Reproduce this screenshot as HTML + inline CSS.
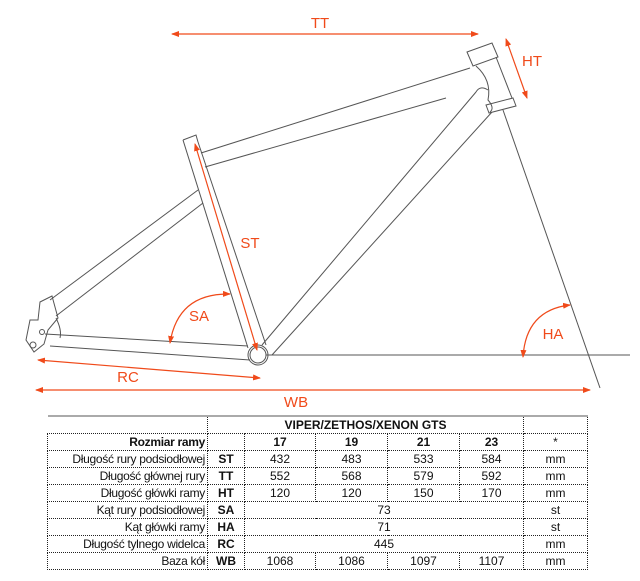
<!DOCTYPE html>
<html><head><meta charset="utf-8"><style>
body{margin:0;background:#fff;width:640px;height:581px;overflow:hidden;position:relative;font-family:"Liberation Sans",Arial,sans-serif}
svg{position:absolute;left:0;top:0}
table{position:absolute;left:47px;top:415px;border-collapse:collapse;font-size:12px;color:#111}
td{height:16px;padding:0 2px;border:1px dotted #222;text-align:center;line-height:16px;white-space:nowrap}
td.l{text-align:right;letter-spacing:-0.3px}
.b{font-weight:bold}
tr.top td{border-top:2px solid #aaa}
</style></head><body>
<svg width="640" height="581" viewBox="0 0 640 581">
<defs><marker id="a" markerWidth="8" markerHeight="6" refX="7" refY="3" orient="auto" markerUnits="userSpaceOnUse"><path d="M0,0 L8,3 L0,6z" fill="#f04a1a"/></marker>
<marker id="s" markerWidth="8" markerHeight="6" refX="1" refY="3" orient="auto" markerUnits="userSpaceOnUse"><path d="M8,0 L0,3 L8,6z" fill="#f04a1a"/></marker></defs>
<g fill="none" stroke="#555" stroke-width="1">
<!-- top tube -->
<path d="M201,153 L470,68"/><path d="M205,167 L446,98"/>
<!-- head tube -->
<path d="M467,52 L492,43 L498,57 L473,66 Z"/>
<path d="M476,66 Q492,80 488,100 Q495,108 490,112"/>
<path d="M496,57 L512,98"/>
<path d="M486,105 L513,98 L516,106 L489,113 Z"/>
<!-- down tube -->
<path d="M476,92 Q480,85 488,90 M476,92 L262,345"/><path d="M492,112 L272,355"/>
<!-- seat tube -->
<path d="M183,140 L196,135 L198,142"/><path d="M183,140 L248,348"/><path d="M198,142 L266,345"/>
<!-- seat stays -->
<path d="M198,190 L50,300"/><path d="M203,203 L56,316"/>
<!-- chainstays -->
<path d="M45,334 L248,346"/><path d="M50,346 L250,360"/>
<!-- dropout -->
<path d="M52,296 L40,302 L38,320 L30,320 L26,340 L34,352 L44,344 L48,330 L58,318 Z"/>
<circle cx="33" cy="345" r="3"/><circle cx="42" cy="332" r="2.5"/>
<path d="M56,318 Q62,330 60,338"/>
<!-- BB -->
<circle cx="258" cy="355" r="10"/><circle cx="258" cy="355" r="8"/>
<!-- ground & steering -->
<path d="M266,355 L630,355"/><path d="M503,110 L600,388"/>
</g>
<g stroke="#f04a1a" stroke-width="1.2" fill="none">
<path d="M172,34 L478,34" marker-start="url(#s)" marker-end="url(#a)"/>
<path d="M506,39 L527,98" marker-start="url(#s)" marker-end="url(#a)"/>
<path d="M195,144 L257,350" marker-start="url(#s)" marker-end="url(#a)"/>
<path d="M170,343 Q178,293 230,294" marker-start="url(#s)" marker-end="url(#a)"/>
<path d="M523,357 Q526,310 570,305" marker-start="url(#s)" marker-end="url(#a)"/>
<path d="M38,360 L260,378" marker-start="url(#s)" marker-end="url(#a)"/>
<path d="M36,390 L590,390" marker-start="url(#s)" marker-end="url(#a)"/>
</g>
<g fill="#f04a1a" font-size="15" font-family="Liberation Sans,Arial,sans-serif" text-anchor="middle">
<text x="320" y="28">TT</text><text x="532" y="66">HT</text><text x="250" y="248">ST</text>
<text x="199" y="321">SA</text><text x="553" y="339">HA</text><text x="128" y="382">RC</text>
<text x="296" y="407">WB</text>
</g>
</svg>
<table>
<colgroup><col style="width:160px"><col style="width:37px"><col style="width:71px"><col style="width:72px"><col style="width:72px"><col style="width:64px"><col style="width:64px"></colgroup>
<tr class="top"><td style="border-left:none"></td><td colspan="5" class="b">VIPER/ZETHOS/XENON GTS</td><td></td></tr>
<tr><td class="l b">Rozmiar ramy</td><td></td><td class="b">17</td><td class="b">19</td><td class="b">21</td><td class="b">23</td><td>*</td></tr>
<tr><td class="l">Długość rury podsiodłowej</td><td class="b">ST</td><td>432</td><td>483</td><td>533</td><td>584</td><td>mm</td></tr>
<tr><td class="l">Długość głównej rury</td><td class="b">TT</td><td>552</td><td>568</td><td>579</td><td>592</td><td>mm</td></tr>
<tr><td class="l">Długość główki ramy</td><td class="b">HT</td><td>120</td><td>120</td><td>150</td><td>170</td><td>mm</td></tr>
<tr><td class="l">Kąt rury podsiodłowej</td><td class="b">SA</td><td colspan="4">73</td><td>st</td></tr>
<tr><td class="l">Kąt główki ramy</td><td class="b">HA</td><td colspan="4">71</td><td>st</td></tr>
<tr><td class="l">Długość tylnego widelca</td><td class="b">RC</td><td colspan="4">445</td><td>mm</td></tr>
<tr><td class="l">Baza kół</td><td class="b">WB</td><td>1068</td><td>1086</td><td>1097</td><td>1107</td><td>mm</td></tr>
</table>
</body></html>
